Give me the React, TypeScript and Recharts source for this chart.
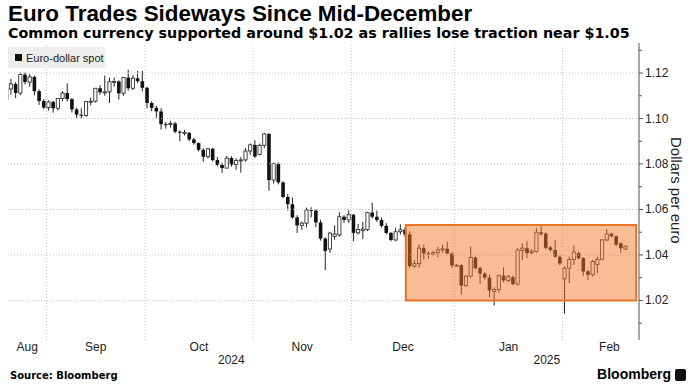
import React from "react";
import { ComposedChart, Bar, XAxis, YAxis, ReferenceLine, ReferenceArea } from "recharts";

// Daily EUR/USD candles, Aug 20 2024 (index 0) to Feb 20 2025 (index 132)
const opens = [
  1.1085, 1.113, 1.1152, 1.1112, 1.1193, 1.116, 1.1183, 1.112, 1.1077, 1.1048,
  1.1073, 1.1045, 1.1088, 1.1112, 1.1085, 1.104, 1.1017, 1.1013, 1.1074, 1.1076,
  1.1133, 1.1115, 1.1117, 1.1162, 1.1163, 1.1111, 1.118, 1.1133, 1.1177, 1.1164,
  1.1135, 1.1068, 1.1047, 1.1031, 1.0975, 1.0974, 1.0978, 1.0942, 1.0937, 1.0937,
  1.0908, 1.0892, 1.0862, 1.0832, 1.0867, 1.0817, 1.0796, 1.0782, 1.0826, 1.0797,
  1.0815, 1.0818, 1.0857, 1.0884, 1.0842, 1.0882, 1.0932, 1.0729, 1.0801, 1.0719,
  1.0655, 1.0623, 1.0565, 1.053, 1.054, 1.0598, 1.0595, 1.0543, 1.0472, 1.0426,
  1.0482, 1.0488, 1.0568, 1.0554, 1.0577, 1.0497, 1.0508, 1.0511, 1.0586, 1.0568,
  1.0554, 1.0528, 1.0497, 1.0466, 1.0502, 1.0511, 1.049, 1.0351, 1.0362, 1.043,
  1.0407, 1.0403, 1.041, 1.0422, 1.0427, 1.0406, 1.0354, 1.0355, 1.0265, 1.0307,
  1.0389, 1.0342, 1.0318, 1.03, 1.024, 1.0248, 1.0309, 1.0288, 1.0302, 1.0272,
  1.042, 1.043, 1.041, 1.0415, 1.05, 1.0494, 1.0433, 1.0422, 1.0392, 1.0295,
  1.0342, 1.038, 1.0408, 1.0386, 1.0328, 1.0313, 1.0358, 1.0381, 1.0466, 1.0493,
  1.0482, 1.0451, 1.0426,
];
const highs = [
  1.1137, 1.1174, 1.116, 1.1201, 1.1202, 1.1195, 1.1189, 1.1128, 1.1085, 1.108,
  1.1077, 1.109, 1.112, 1.1155, 1.109, 1.1048, 1.1045, 1.1078, 1.1092, 1.1134,
  1.1146, 1.1189, 1.118, 1.118, 1.1168, 1.1183, 1.1214, 1.119, 1.1209, 1.121,
  1.114, 1.1076, 1.1055, 1.1045, 1.0985, 1.099, 1.0985, 1.0948, 1.095, 1.0942,
  1.0915, 1.0895, 1.087, 1.087, 1.087, 1.083, 1.0805, 1.0835, 1.0834, 1.0825,
  1.083, 1.087, 1.089, 1.0905, 1.089, 1.0937, 1.0937, 1.0805, 1.0807, 1.0724,
  1.0668, 1.0653, 1.0575, 1.0546, 1.0608, 1.061, 1.06, 1.0555, 1.0478, 1.05,
  1.053, 1.0588, 1.0575, 1.0597, 1.058, 1.0537, 1.0545, 1.059, 1.063, 1.0595,
  1.0565, 1.054, 1.05, 1.052, 1.0535, 1.052, 1.0505, 1.0378, 1.0447, 1.0446,
  1.0416, 1.0418, 1.0434, 1.0445, 1.0458, 1.0415, 1.036, 1.036, 1.0312, 1.0437,
  1.0393, 1.0348, 1.0325, 1.0313, 1.0257, 1.0314, 1.0346, 1.0312, 1.031, 1.043,
  1.0452, 1.046, 1.0425, 1.052, 1.0532, 1.05, 1.044, 1.0466, 1.0398, 1.035,
  1.0392, 1.0442, 1.0415, 1.039, 1.0335, 1.0378, 1.0393, 1.047, 1.0513, 1.0498,
  1.0486, 1.0455, 1.0442,
];
const lows = [
  1.1075, 1.1105, 1.109, 1.1102, 1.115, 1.114, 1.1102, 1.106, 1.104, 1.1035,
  1.1026, 1.1035, 1.1075, 1.1075, 1.1026, 1.1002, 1.1001, 1.1008, 1.1058, 1.107,
  1.1105, 1.11, 1.1068, 1.114, 1.1083, 1.11, 1.1123, 1.1125, 1.1155, 1.112,
  1.1045, 1.1032, 1.1003, 1.0951, 1.0955, 1.096, 1.0935, 1.09, 1.0925, 1.09,
  1.0885, 1.0855, 1.081, 1.0825, 1.0811, 1.079, 1.0761, 1.078, 1.0788, 1.0775,
  1.0762, 1.081, 1.084, 1.0826, 1.0838, 1.087, 1.0682, 1.0714, 1.071, 1.065,
  1.0595, 1.056, 1.0497, 1.051, 1.0522, 1.0565, 1.0522, 1.0463, 1.0333, 1.041,
  1.0467, 1.048, 1.054, 1.054, 1.046, 1.049, 1.047, 1.0505, 1.056, 1.0545,
  1.052, 1.049, 1.046, 1.046, 1.049, 1.0478, 1.0343, 1.0344, 1.0343, 1.038,
  1.0384, 1.0398, 1.039, 1.041, 1.0405, 1.0342, 1.0348, 1.0226, 1.026, 1.03,
  1.0335, 1.0272, 1.0292, 1.0214, 1.0178, 1.0235, 1.028, 1.028, 1.0266, 1.0266,
  1.0378, 1.0386, 1.0403, 1.041, 1.0485, 1.0425, 1.0415, 1.0388, 1.0355, 1.0141,
  1.0276, 1.0356, 1.038, 1.0308, 1.029, 1.0305, 1.032, 1.0376, 1.046, 1.0478,
  1.0438, 1.0408, 1.0422,
];
const closes = [
  1.113, 1.1152, 1.1112, 1.1193, 1.116, 1.1183, 1.112, 1.1077, 1.1048, 1.1073,
  1.1045, 1.1088, 1.1112, 1.1085, 1.104, 1.1017, 1.1013, 1.1074, 1.1076, 1.1133,
  1.1115, 1.1117, 1.1162, 1.1163, 1.1111, 1.118, 1.1133, 1.1177, 1.1164, 1.1135,
  1.1068, 1.1047, 1.1031, 1.0975, 1.0974, 1.0978, 1.0942, 1.0937, 1.0939, 1.0908,
  1.0892, 1.0862, 1.0832, 1.0867, 1.0817, 1.0796, 1.0782, 1.0826, 1.0797, 1.0815,
  1.0818, 1.0857, 1.0884, 1.0833, 1.0882, 1.0932, 1.0729, 1.0801, 1.0719, 1.0655,
  1.0623, 1.0565, 1.053, 1.054, 1.0598, 1.0595, 1.0543, 1.0472, 1.0418, 1.0496,
  1.0492, 1.0568, 1.0554, 1.0577, 1.0497, 1.0512, 1.0514, 1.0586, 1.0568, 1.0554,
  1.0528, 1.0497, 1.0466, 1.0502, 1.0511, 1.049, 1.0351, 1.0362, 1.043, 1.0407,
  1.0403, 1.041, 1.0422, 1.0427, 1.0406, 1.0354, 1.0355, 1.0265, 1.0307, 1.0389,
  1.0342, 1.0318, 1.03, 1.0244, 1.0248, 1.0309, 1.0288, 1.0305, 1.0272, 1.0422,
  1.043, 1.0408, 1.0417, 1.05, 1.0491, 1.0431, 1.0422, 1.0392, 1.0362, 1.034,
  1.038, 1.0413, 1.0386, 1.0327, 1.0313, 1.0371, 1.0381, 1.0466, 1.0492, 1.0482,
  1.0445, 1.043, 1.0438,
];

// first trading day index of Sep, Oct, Nov, Dec, Jan, Feb
const monthFirstIdx = [9, 30, 53, 74, 96, 119];
const monthNames = ["Aug", "Sep", "Oct", "Nov", "Dec", "Jan", "Feb"];
const monthLabelAt = [4.4, 19, 41, 63, 84.5, 107, 128.5];
const yearNames = ["2024", "2025"];
const priceTicks = [1.01, 1.02, 1.03, 1.04, 1.05, 1.06, 1.07, 1.08, 1.09, 1.1, 1.11, 1.12, 1.13];
const priceGrid = [1.02, 1.04, 1.06, 1.08, 1.1, 1.12];

// sideways range since mid-December
const rangeFrom = 85.1;
const rangeTo = 134.2;
const rangeLow = 1.02;
const rangeHigh = 1.0532;

const X_DOMAIN: [number, number] = [0.3, 134.8];
const Y_DOMAIN: [number, number] = [1.0026, 1.1332];

const data = opens.map((o, i) => ({
  i,
  o,
  h: highs[i],
  l: lows[i],
  c: closes[i],
  range: [lows[i], highs[i]],
}));

const boundaries = monthFirstIdx.map((v) => v - 0.5);
const yearLabelAt = [
  (X_DOMAIN[0] + boundaries[4]) / 2,
  (boundaries[4] + X_DOMAIN[1]) / 2,
];

const FONT = "'Liberation Sans', Arial, sans-serif";
const WIDE = "'DejaVu Sans', Verdana, sans-serif";

const Candle = (props: any) => {
  const { x, y, width, height, payload } = props;
  const top = height < 0 ? y + height : y;
  const hh = Math.abs(height);
  const { o, h, l, c } = payload;
  const per = hh / (h - l || 1e-9);
  const yO = top + (h - o) * per;
  const yC = top + (h - c) * per;
  const cx = x + width / 2;
  const up = c >= o;
  const bTop = Math.min(yO, yC);
  const bH = Math.max(1, Math.abs(yO - yC));
  return (
    <g>
      <line x1={cx} x2={cx} y1={top} y2={top + hh} stroke="#222" strokeWidth={1} />
      {up ? (
        <rect x={cx - 1.6} y={bTop} width={3.2} height={bH} fill="#fff" stroke="#333" strokeWidth={0.9} />
      ) : (
        <rect x={cx - 1.8} y={bTop} width={3.6} height={bH} fill="#111" />
      )}
    </g>
  );
};

const PriceTick = (props: any) => {
  const { x, y, payload } = props;
  const v = payload.value;
  const major = priceGrid.some((g) => Math.abs(g - v) < 1e-6);
  return (
    <g>
      <line x1={x} x2={x + (major ? 4 : 3)} y1={y} y2={y} stroke="#555" />
      {major && (
        <text x={x + 6} y={y + 4} fontSize={12} fill="#222" fontFamily={FONT}>
          {v.toFixed(2)}
        </text>
      )}
    </g>
  );
};

const MonthTick = (props: any) => {
  const { x, y, index } = props;
  return (
    <text x={x} y={y + 11} textAnchor="middle" fontSize={12} fill="#222" fontFamily={FONT}>
      {monthNames[index]}
    </text>
  );
};

const YearTick = (props: any) => {
  const { x, y, index } = props;
  return (
    <text x={x} y={y + 11} textAnchor="middle" fontSize={12} fill="#222" fontFamily={FONT}>
      {yearNames[index]}
    </text>
  );
};

export default function App() {
  return (
    <div
      style={{
        position: "absolute",
        left: 0,
        top: 0,
        width: 693,
        height: 389,
        background: "#fff",
        fontFamily: FONT,
        color: "#000",
        overflow: "hidden",
      }}
    >
      <div style={{ position: "absolute", left: 0, top: 0 }}>
        <ComposedChart
          width={693}
          height={389}
          data={data}
          margin={{ top: 43, right: 0, bottom: 22, left: 8 }}
        >
          <XAxis
            type="number"
            dataKey="i"
            domain={X_DOMAIN}
            allowDataOverflow
            ticks={monthLabelAt}
            interval={0}
            axisLine={false}
            tickLine={false}
            tickSize={0}
            tickMargin={0}
            height={13}
            tick={<MonthTick />}
          />
          <XAxis
            xAxisId="year"
            type="number"
            dataKey="i"
            domain={X_DOMAIN}
            allowDataOverflow
            ticks={yearLabelAt}
            interval={0}
            axisLine={false}
            tickLine={false}
            tickSize={0}
            tickMargin={0}
            height={14}
            tick={<YearTick />}
          />
          <YAxis
            orientation="right"
            domain={Y_DOMAIN}
            allowDataOverflow
            ticks={priceTicks}
            interval={0}
            width={54}
            axisLine={{ stroke: "#555" }}
            tickLine={false}
            tickSize={0}
            tickMargin={0}
            tick={<PriceTick />}
          />
          {priceGrid.map((v) => (
            <ReferenceLine key={"h" + v} y={v} stroke="#c4c4c4" strokeDasharray="1 2" />
          ))}
          {boundaries.map((v) => (
            <ReferenceLine key={"v" + v} x={v} stroke="#c4c4c4" strokeDasharray="1 2" />
          ))}
          <Bar dataKey="range" barSize={4} shape={<Candle />} isAnimationActive={false} />
          <ReferenceArea
            x1={rangeFrom}
            x2={rangeTo}
            y1={rangeLow}
            y2={rangeHigh}
            fill="#f47b2e"
            fillOpacity={0.5}
            stroke="#e8742a"
            strokeWidth={2}
            zIndex={900}
          />
        </ComposedChart>
      </div>

      <div style={{ position: "absolute", left: 8, top: 3, fontSize: 22.4, lineHeight: "22px", fontWeight: 700, whiteSpace: "nowrap" }}>
        Euro Trades Sideways Since Mid-December
      </div>
      <div style={{ position: "absolute", left: 8, top: 26, fontSize: 14.3, lineHeight: "14px", fontWeight: 700, fontFamily: WIDE, whiteSpace: "nowrap" }}>
        Common currency supported around $1.02 as rallies lose traction near $1.05
      </div>

      <div
        style={{
          position: "absolute",
          left: 8,
          top: 47,
          width: 97,
          height: 21,
          background: "#eeeeee",
          display: "flex",
          alignItems: "center",
          fontSize: 11,
          color: "#222",
          whiteSpace: "nowrap",
        }}
      >
        <span style={{ display: "inline-block", width: 7, height: 7, background: "#111", marginLeft: 7, marginRight: 4 }} />
        Euro-dollar spot
      </div>

      <div
        style={{
          position: "absolute",
          left: 668,
          top: 137,
          writingMode: "vertical-rl",
          fontSize: 15,
          color: "#222",
          whiteSpace: "nowrap",
        }}
      >
        Dollars per euro
      </div>

      <div style={{ position: "absolute", left: 10, top: 370, fontSize: 10, fontWeight: 700, fontFamily: WIDE, whiteSpace: "nowrap" }}>
        Source: Bloomberg
      </div>
      <div style={{ position: "absolute", right: 22, top: 366, fontSize: 14, fontWeight: 700, whiteSpace: "nowrap" }}>
        Bloomberg
      </div>
      <div style={{ position: "absolute", left: 675, top: 369, width: 11, height: 12, background: "#111", borderRadius: 2 }} />
    </div>
  );
}
